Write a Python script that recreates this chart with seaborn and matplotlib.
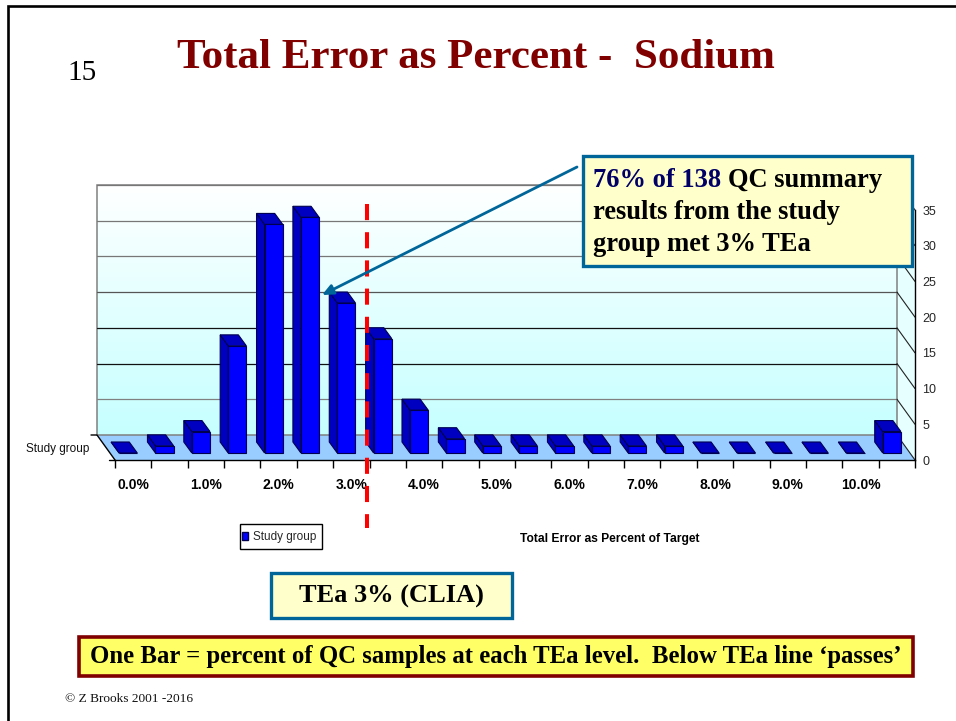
import numpy as np
import pandas as pd
import seaborn as sns
import matplotlib
matplotlib.use('Agg')
import matplotlib.pyplot as plt
from matplotlib.patches import Polygon, Rectangle, Patch

# data
bins = ['0.0%', '0.5%', '1.0%', '1.5%', '2.0%', '2.5%', '3.0%', '3.5%', '4.0%', '4.5%', '5.0%',
        '5.5%', '6.0%', '6.5%', '7.0%', '7.5%', '8.0%', '8.5%', '9.0%', '9.5%', '10.0%', '10.5%']
study_group = [0, 1, 3, 15, 32, 33, 21, 16, 6, 2, 1, 1, 1, 1, 1, 1, 0, 0, 0, 0, 0, 3]
y_ticks = [0, 5, 10, 15, 20, 25, 30, 35]
grid_colors = ['#808080', '#111111', '#111111', '#555555', '#777777', '#777777', '#777777']

sns.set_theme(style='white')
plt.rcParams['font.family'] = ['Liberation Sans', 'DejaVu Sans']

W, H = 956, 721
fig = plt.figure(figsize=(W / 100, H / 100), dpi=100, facecolor='white')

# front plane of the 3d box: 115..915 px wide, 0 at y=460, 35 at y=210
ax = fig.add_axes([115 / W, 1 - 460 / H, 800 / W, 250 / H])
df = pd.DataFrame({'bin': bins, 'pct': study_group})
sns.barplot(data=df, x='bin', y='pct', ax=ax, color='#0000FF', saturation=1, width=0.5,
            edgecolor='#000050', linewidth=0.8, zorder=4)
ax.set_xlim(-0.5, 21.5)
ax.set_ylim(0, 35)
ax.set_xlabel('')
ax.set_ylabel('')

px_x = 22 / 800
px_y = 35 / 250
depth_x, depth_y = 18 * px_x, 25 * px_y
x_l, x_r = -0.5, 21.5

# back wall gradient and floor
grad = np.linspace(0, 1, 200).reshape(-1, 1)
cmap = matplotlib.colors.LinearSegmentedColormap.from_list('wall', ['#FFFFFF', '#C6FFFF'])
ax.imshow(grad, extent=(x_l - depth_x, x_r - depth_x, depth_y, 35 + depth_y), aspect='auto',
          cmap=cmap, zorder=0, clip_on=False, origin='upper')
ax.add_patch(Polygon([(x_r - depth_x, depth_y), (x_r, 0), (x_r, 35), (x_r - depth_x, 35 + depth_y)],
                     closed=True, fc='#E6FFFF', ec='none', zorder=0, clip_on=False))
ax.add_patch(Polygon([(x_l, 0), (x_r, 0), (x_r - depth_x, depth_y), (x_l - depth_x, depth_y)],
                     closed=True, fc='#99CCFF', ec='none', zorder=1, clip_on=False))
ax.add_patch(Rectangle((x_l - depth_x, depth_y), x_r - x_l, 35, fc='none', ec='#808080', lw=1.1,
                       zorder=1.5, clip_on=False))
for v, c in zip(y_ticks[1:], grid_colors):
    ax.plot([x_l - depth_x, x_r - depth_x], [v + depth_y, v + depth_y], color=c, lw=0.9, zorder=1.5,
            clip_on=False)
for v in y_ticks:
    ax.plot([x_r - depth_x, x_r], [v + depth_y, v], color='#222222', lw=0.8, zorder=1.5, clip_on=False)
ax.plot([x_l - depth_x - 6 * px_x, x_l - depth_x, x_l], [depth_y, depth_y, 0], color='black', lw=1,
        zorder=1.5, clip_on=False)
ax.plot([x_l - 6 * px_x, x_l], [0, 0], color='black', lw=1, clip_on=False)

# move bars into the box and give them sides and tops
off_x, off_y = -5 * px_x, 7 * px_y
bar_x, bar_y = -8 * px_x, 11 * px_y
for i, p in enumerate(list(ax.patches)):
    if not isinstance(p, Rectangle) or p.get_width() != 0.5:
        continue
    x0 = p.get_x() + off_x
    x1 = x0 + p.get_width()
    h = p.get_height()
    p.set_x(x0)
    p.set_y(off_y)
    p.set_clip_on(False)
    y0, y1 = off_y, off_y + h
    ax.add_patch(Polygon([(x0, y0), (x0 + bar_x, y0 + bar_y), (x0 + bar_x, y1 + bar_y), (x0, y1)],
                         closed=True, fc='#0000C0', ec='#000050', lw=0.8, zorder=3, clip_on=False))
    ax.add_patch(Polygon([(x0, y1), (x0 + bar_x, y1 + bar_y), (x1 + bar_x, y1 + bar_y), (x1, y1)],
                         closed=True, fc='#0000C0', ec='#000050', lw=0.8, zorder=3, clip_on=False))

# axes
edges = np.arange(-0.5, 22, 1)
ax.set_xticks(edges)
ax.set_xticklabels([])
ax.set_xticks(range(0, 22, 2), minor=True)
ax.set_xticklabels(bins[::2], minor=True, fontsize=10, fontweight='bold', color='black')
ax.tick_params(axis='x', which='major', length=5.8, width=1, color='black', bottom=True)
ax.tick_params(axis='x', which='minor', length=0, pad=13, bottom=True)
ax.yaxis.tick_right()
ax.set_yticks(y_ticks)
ax.tick_params(axis='y', length=4.3, width=0.8, color='black', labelsize=9, pad=1, right=True, left=False)
sns.despine(ax=ax, left=True, top=True, right=False, bottom=False)
for s in ['bottom', 'right']:
    ax.spines[s].set_color('black')
    ax.spines[s].set_linewidth(1)
ax.patch.set_alpha(0)
ax.grid(False)

# TEa limit
tea_pos = 6.43
ax.plot([tea_pos, tea_pos], [35.84, -9.52], color='#FF0000', lw=2.9, linestyle=(0, (4, 3)),
        dash_capstyle='butt', zorder=8, clip_on=False)

# page overlay in pixel coords
page = fig.add_axes([0, 0, 1, 1], facecolor='none')
page.set_xlim(0, W)
page.set_ylim(H, 0)
page.axis('off')

page.plot([8.5, 8.5, W], [H, 5.5, 5.5], color='black', lw=1.9, solid_joinstyle='miter')

serif = dict(family='Liberation Serif', fontweight='bold', va='baseline', zorder=6)
page.text(476, 68, 'Total Error as Percent -  Sodium', fontsize=31, color='#800000', ha='center', **serif)
page.text(67, 80, '15', family='Liberation Serif', fontsize=21, color='black', ha='left', va='baseline')

page.text(89, 449, 'Study group', fontsize=8.5, ha='right', va='center', color='#111111')
page.text(610, 542, 'Total Error as Percent of Target', fontsize=8.65, fontweight='bold', ha='center',
          va='baseline', color='black')

page.add_patch(Rectangle((240, 524), 82, 25, fc='white', ec='black', lw=1))
leg = page.legend(handles=[Patch(fc='#0000FF', ec='#000050', label='Study group')], loc='center left',
                  bbox_to_anchor=(242 / W, 1 - 537 / H), bbox_transform=fig.transFigure, fontsize=8.5,
                  frameon=False, handlelength=0.55, handleheight=0.7, handletextpad=0.35, borderpad=0,
                  borderaxespad=0)

# callout
blue = '#006699'
page.annotate('', xy=(322, 295), xytext=(577, 167),
              arrowprops=dict(arrowstyle='-|>,head_length=0.55,head_width=0.25', color=blue, lw=2,
                              shrinkA=0, shrinkB=0))
page.add_patch(Rectangle((583, 155.5), 329, 110, fc='#FFFFCC', ec=blue, lw=2.4, zorder=5))
page.text(593, 187, '76% of 138', color='#000066', fontsize=19.1, **serif)
page.text(728, 187, 'QC summary', color='black', fontsize=19.1, **serif)
page.text(593, 219, 'results from the study', color='black', fontsize=19.1, **serif)
page.text(593, 251, 'group met 3% TEa', color='black', fontsize=19.1, **serif)

page.add_patch(Rectangle((271, 572.5), 241, 45, fc='#FFFFCC', ec=blue, lw=2.4, zorder=5))
page.text(391.5, 603, 'TEa 3% (CLIA)', color='black', fontsize=19, ha='center', **serif)

page.add_patch(Rectangle((79, 637), 834, 39, fc='#FFFF66', ec='#800000', lw=2.6, zorder=5))
page.text(90, 663, 'One Bar = percent of QC samples at each TEa level.  Below TEa line \u2018passes\u2019',
          color='black', fontsize=17.8, **serif)

page.text(65, 702, '\u00a9 Z Brooks 2001 -2016', family='Liberation Serif', fontsize=9.6, color='#111111',
          va='baseline')

fig.savefig('out.png', dpi=100)
